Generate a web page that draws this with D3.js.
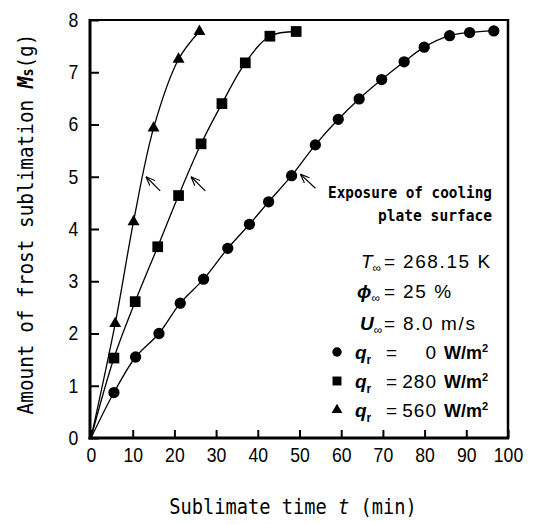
<!DOCTYPE html>
<html>
<head>
<meta charset="utf-8">
<script src="https://cdn.jsdelivr.net/npm/d3@7"></script>
<style>
  body { margin: 0; background: #fff; }
  svg { display: block; }
</style>
</head>
<body>
<svg id="chart" width="543" height="524"></svg>
<script>
// data (t in min, Ms in g)
const timeCircle = [5.5, 10.7, 16.3, 21.4, 27, 32.8, 38, 42.6, 48.1, 53.8, 59.3, 64.3, 69.7, 75.1, 79.9, 86, 90.8, 96.6];
const massCircle = [0.87, 1.55, 2.0, 2.58, 3.04, 3.63, 4.09, 4.52, 5.02, 5.61, 6.1, 6.49, 6.86, 7.2, 7.48, 7.7, 7.76, 7.79];
const timeSquare = [5.5, 10.6, 16, 21, 26.4, 31.4, 37, 42.9, 49.2];
const massSquare = [1.53, 2.61, 3.66, 4.64, 5.63, 6.4, 7.18, 7.69, 7.78];
const timeTriangle = [5.8, 10.2, 15, 21, 26];
const massTriangle = [2.19, 4.14, 5.93, 7.25, 7.78];

const xTicks = [0, 10, 20, 30, 40, 50, 60, 70, 80, 90, 100];
const yTicks = [0, 1, 2, 3, 4, 5, 6, 7, 8];

// arrows marking exposure of the cooling plate: [tailT, tailM, headT, headM]
const arrows = [[16.6, 4.73, 13.2, 5.0], [27.4, 4.73, 24.0, 5.0], [53.8, 4.78, 50.2, 5.05]];

const legendLabels = ["0", "280", "560"];

const svg = d3.select("#chart");
const plotL = 91, plotR = 508, plotT = 20, plotB = 438;

const x = d3.scaleLinear().domain([0, 100]).range([plotL, plotR]);
const y = d3.scaleLinear().domain([0, 8]).range([plotB, plotT]);

const tickFont = "'Liberation Sans', Arial, sans-serif";
const monoFont = "'DejaVu Sans Mono', monospace";

// axes with inward ticks
const xAxisG = svg.append("g")
  .attr("transform", "translate(0," + plotB + ")")
  .call(d3.axisBottom(x).tickValues(xTicks).tickSizeInner(-8).tickSizeOuter(0).tickPadding(10));
xAxisG.select(".domain").remove();
xAxisG.selectAll(".tick line").attr("stroke", "#000").attr("stroke-width", 2);
xAxisG.selectAll(".tick text")
  .attr("fill", "#000").attr("font-family", tickFont).attr("font-size", 20)
  .attr("transform", "scale(0.88,1)");

const yAxisG = svg.append("g")
  .attr("transform", "translate(" + plotL + ",0)")
  .call(d3.axisLeft(y).tickValues(yTicks).tickSizeInner(-8).tickSizeOuter(0).tickPadding(14.5));
yAxisG.select(".domain").remove();
yAxisG.selectAll(".tick line").attr("stroke", "#000").attr("stroke-width", 2);
yAxisG.selectAll(".tick text")
  .attr("fill", "#000").attr("font-family", tickFont).attr("font-size", 20)
  .attr("transform", "scale(0.88,1)");

// frame
const frame = svg.append("g").attr("stroke", "#000").attr("fill", "none");
frame.append("line").attr("x1", plotL - 1).attr("x2", plotR + 1).attr("y1", plotT).attr("y2", plotT).attr("stroke-width", 2);
frame.append("line").attr("x1", plotR).attr("x2", plotR).attr("y1", plotT - 1).attr("y2", plotB + 1).attr("stroke-width", 2.5);
frame.append("line").attr("x1", plotL - 1).attr("x2", plotL - 1).attr("y1", plotT - 1).attr("y2", plotB + 1.5).attr("stroke-width", 3);
frame.append("line").attr("x1", plotL - 2.5).attr("x2", plotR + 1).attr("y1", plotB).attr("y2", plotB).attr("stroke-width", 3);

// curves + markers
const series = [
  { t: timeCircle, m: massCircle, sym: d3.symbolCircle, size: 100 },
  { t: timeSquare, m: massSquare, sym: d3.symbolSquare, size: 115 },
  { t: timeTriangle, m: massTriangle, sym: d3.symbolTriangle, size: 62 }
];

const line = d3.line()
  .x(d => x(d[0]))
  .y(d => y(d[1]))
  .curve(d3.curveCatmullRom.alpha(0.5));

series.forEach(s => {
  const pts = [[0, 0]].concat(s.t.map((t, i) => [t, s.m[i]]));
  svg.append("path")
    .datum(pts)
    .attr("d", line)
    .attr("fill", "none")
    .attr("stroke", "#000")
    .attr("stroke-width", 1.3);
  svg.append("g").selectAll("path")
    .data(pts.slice(1))
    .enter().append("path")
    .attr("d", d3.symbol().type(s.sym).size(s.size))
    .attr("transform", d => "translate(" + x(d[0]) + "," + y(d[1]) + ")")
    .attr("fill", "#000");
});

// arrows
svg.append("defs").append("marker")
  .attr("id", "head")
  .attr("viewBox", "0 0 10 10")
  .attr("refX", 10).attr("refY", 5)
  .attr("markerWidth", 9).attr("markerHeight", 9)
  .attr("markerUnits", "userSpaceOnUse")
  .attr("orient", "auto")
  .append("path")
  .attr("d", "M0,1 L10,5 L0,9")
  .attr("fill", "none").attr("stroke", "#000").attr("stroke-width", 1.3);

svg.append("g").selectAll("line")
  .data(arrows)
  .enter().append("line")
  .attr("x1", d => x(d[0])).attr("y1", d => y(d[1]))
  .attr("x2", d => x(d[2])).attr("y2", d => y(d[3]))
  .attr("stroke", "#000").attr("stroke-width", 1.2)
  .attr("marker-end", "url(#head)");

// annotation
svg.append("text")
  .attr("x", 492).attr("y", 198).attr("text-anchor", "end")
  .attr("font-family", monoFont).attr("font-size", 15).attr("font-weight", "bold")
  .attr("textLength", 164).attr("lengthAdjust", "spacingAndGlyphs")
  .text("Exposure of cooling");
svg.append("text")
  .attr("x", 492).attr("y", 221).attr("text-anchor", "end")
  .attr("font-family", monoFont).attr("font-size", 15).attr("font-weight", "bold")
  .attr("textLength", 114).attr("lengthAdjust", "spacingAndGlyphs")
  .text("plate surface");

// conditions
const cond = [
  { sym: "T", val: "268.15 K", yy: 268, sx: 361 },
  { sym: "\u03d5", val: "25 %", yy: 298, sx: 357 },
  { sym: "U", val: "8.0 m/s", yy: 330, sx: 360 }
];
cond.forEach(c => {
  const t = svg.append("text").attr("y", c.yy).attr("font-family", tickFont).attr("font-size", 19);
  t.append("tspan").attr("x", c.sx).attr("font-style", "italic").attr("font-weight", c.sym === "T" ? "normal" : "bold").text(c.sym);
  t.append("tspan").attr("dy", 4).attr("font-size", 12).text("\u221e");
  t.append("tspan").attr("x", 384).attr("dy", -4).text("=");
  t.append("tspan").attr("x", 403).attr("letter-spacing", 1.6).text(c.val);
});

// legend
const legendSyms = [d3.symbolCircle, d3.symbolSquare, d3.symbolTriangle];
const legendSizes = [70, 80, 50];
const legendY = [359, 388, 417];
legendLabels.forEach((lab, i) => {
  svg.append("path")
    .attr("d", d3.symbol().type(legendSyms[i]).size(legendSizes[i]))
    .attr("transform", "translate(337," + (legendY[i] - 7) + ")")
    .attr("fill", "#000");
  const t = svg.append("text").attr("y", legendY[i]).attr("font-family", tickFont).attr("font-size", 19);
  t.append("tspan").attr("x", 355).attr("font-style", "italic").attr("font-weight", "bold").text("q");
  t.append("tspan").attr("dy", 5).attr("font-size", 12).attr("font-weight", "bold").text("r");
  t.append("tspan").attr("x", 386).attr("dy", -5).text("=");
  svg.append("text").attr("x", 437).attr("y", legendY[i]).attr("text-anchor", "end")
    .attr("font-family", tickFont).attr("font-size", 19).attr("letter-spacing", 1)
    .text(lab);
  const u = svg.append("text").attr("x", 444).attr("y", legendY[i])
    .attr("font-family", tickFont).attr("font-size", 18).attr("font-weight", "bold");
  u.append("tspan").text("W/m");
  u.append("tspan").attr("dy", -7).attr("font-size", 11).text("2");
});

// axis titles, narrowed so the glyphs look condensed like the original
const yTitle = svg.append("text")
  .attr("transform", "translate(33,224) rotate(-90) scale(0.88,1)")
  .attr("text-anchor", "middle")
  .attr("font-family", monoFont).attr("font-size", 22);
yTitle.append("tspan").text("Amount of frost sublimation ");
yTitle.append("tspan").attr("font-weight", "bold").attr("font-style", "italic").text("M");
yTitle.append("tspan").attr("font-size", 15).attr("font-weight", "bold").text("s");
yTitle.append("tspan").text("(g)");

const xTitle = svg.append("text")
  .attr("transform", "translate(293,514) scale(0.85,1)")
  .attr("text-anchor", "middle")
  .attr("font-family", monoFont).attr("font-size", 22);
xTitle.append("tspan").text("Sublimate time ");
xTitle.append("tspan").attr("font-style", "italic").text("t");
xTitle.append("tspan").text(" (min)");
</script>
</body>
</html>
